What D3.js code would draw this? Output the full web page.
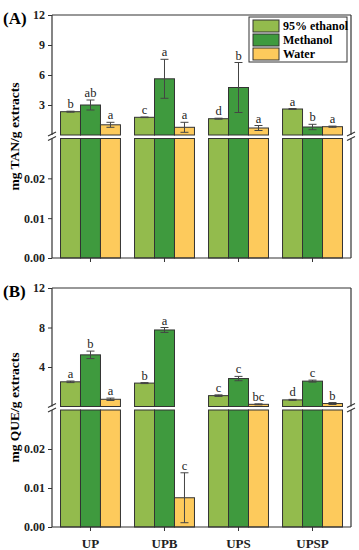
<!DOCTYPE html>
<html>
<head>
<meta charset="utf-8">
<script src="https://cdn.jsdelivr.net/npm/d3@7"></script>
<style>
  body { margin: 0; background: #fff; }
  svg { display: block; }
  text { font-family: "Liberation Serif", "Times New Roman", serif; }
</style>
</head>
<body>
<svg id="chart" width="359" height="550"></svg>
<script>
// data
const groups = ["UP", "UPB", "UPS", "UPSP"];
const series = ["95% ethanol", "Methanol", "Water"];
const colors = ["#93bb4d", "#3f9a3e", "#fdca5c"];

const tanMean = [[2.33, 3.0, 1.02], [1.77, 5.62, 0.77], [1.63, 4.75, 0.7], [2.6, 0.8, 0.83]];
const tanErr = [[0.05, 0.5, 0.25], [0.03, 1.95, 0.5], [0.05, 2.5, 0.25], [0.05, 0.27, 0.06]];
const tanLetters = [["b", "ab", "a"], ["c", "a", "a"], ["d", "b", "a"], ["a", "b", "a"]];

const queMean = [[2.5, 5.23, 0.73], [2.37, 7.75, 0.0075], [1.1, 2.83, 0.22], [0.67, 2.57, 0.3]];
const queErr = [[0.08, 0.38, 0.12], [0.05, 0.25, 0.0064], [0.08, 0.22, 0.05], [0.05, 0.1, 0.1]];
const queLetters = [["a", "b", "a"], ["b", "a", "c"], ["c", "c", "bc"], ["d", "c", "b"]];

const upperTicksA = [3, 6, 9, 12];
const upperTicksB = [4, 8, 12];
const lowerTicks = [0, 0.01, 0.02];
const breakAt = 0.03;

const svg = d3.select("#chart");
const left = 52, right = 351;

const x0 = d3.scaleBand().domain(groups).range([left, right]).paddingInner(0.19).paddingOuter(0.115);
const x1 = d3.scaleBand().domain(series).range([0, x0.bandwidth()]);

function panel(opt) {
  const g = svg.append("g");
  const yU = d3.scaleLinear().domain([0, 12]).range([opt.uBottom, opt.top]);
  const yL = d3.scaleLinear().domain([0, breakAt]).range([opt.bottom, opt.lTop]);

  // bars
  groups.forEach((grp, i) => {
    series.forEach((s, j) => {
      const v = opt.mean[i][j], e = opt.err[i][j];
      const bx = x0(grp) + x1(s), bw = x1.bandwidth();
      const fill = colors[j];
      if (v > breakAt) {
        g.append("rect").attr("x", bx).attr("y", yL(breakAt)).attr("width", bw)
          .attr("height", yL(0) - yL(breakAt)).attr("fill", fill).attr("stroke", "#333").attr("stroke-width", 1);
        g.append("rect").attr("x", bx).attr("y", yU(v)).attr("width", bw)
          .attr("height", yU(0) - yU(v)).attr("fill", fill).attr("stroke", "#333").attr("stroke-width", 1);
      } else {
        g.append("rect").attr("x", bx).attr("y", yL(v)).attr("width", bw)
          .attr("height", yL(0) - yL(v)).attr("fill", fill).attr("stroke", "#333").attr("stroke-width", 1);
      }
      const y = v > breakAt ? yU : yL;
      const cx = bx + bw / 2;
      const yt = y(v + e), yb = Math.min(y(Math.max(v - e, 0)), y(0) - 1);
      const eb = g.append("g").attr("stroke", "#444").attr("stroke-width", 1);
      eb.append("line").attr("x1", cx).attr("x2", cx).attr("y1", yt).attr("y2", yb);
      eb.append("line").attr("x1", cx - 4).attr("x2", cx + 4).attr("y1", yt).attr("y2", yt);
      eb.append("line").attr("x1", cx - 4).attr("x2", cx + 4).attr("y1", yb).attr("y2", yb);
      g.append("text").attr("x", cx).attr("y", yt - 3).attr("text-anchor", "middle")
        .attr("font-size", 12.5).attr("fill", "#222").text(opt.letters[i][j]);
    });
  });

  // frame lines
  const ln = (x1_, y1_, x2_, y2_) => g.append("line").attr("x1", x1_).attr("y1", y1_)
    .attr("x2", x2_).attr("y2", y2_).attr("stroke", "#333").attr("stroke-width", 1.2);
  ln(left, opt.top, right, opt.top);
  ln(left, opt.top, left, opt.uBottom);
  ln(left, opt.lTop, left, opt.bottom);
  ln(right, opt.top, right, opt.uBottom);
  ln(right, opt.lTop, right, opt.bottom);
  ln(left, opt.bottom, right, opt.bottom);

  // break marks
  [left, right].forEach(bxp => {
    ln(bxp - 4, opt.uBottom + 1, bxp + 4, opt.uBottom - 3);
    ln(bxp - 4, opt.lTop + 2, bxp + 4, opt.lTop - 2);
  });

  // axes
  const axU = d3.axisLeft(yU).tickValues(opt.uTicks).tickSize(4).tickFormat(d3.format("d"));
  const axL = d3.axisLeft(yL).tickValues(lowerTicks).tickSize(4).tickFormat(d3.format(".2f"));
  [axU, axL].forEach(ax => {
    const a = g.append("g").attr("transform", `translate(${left},0)`).call(ax);
    a.select(".domain").remove();
    a.selectAll("line").attr("stroke", "#333");
    a.selectAll("text").attr("font-size", 12).attr("font-weight", "bold").attr("fill", "#222")
      .attr("font-family", "Liberation Serif, serif");
  });
  const ax = g.append("g").attr("transform", `translate(0,${opt.bottom})`)
    .call(d3.axisBottom(x0).tickSize(4).tickFormat(opt.showX ? (d => d) : ""));
  ax.select(".domain").remove();
  ax.selectAll("line").attr("stroke", "#333");
  ax.selectAll("text").attr("font-size", 13).attr("font-weight", "bold").attr("fill", "#222")
    .attr("font-family", "Liberation Serif, serif").attr("dy", "1.1em");

  // labels
  g.append("text").attr("x", 3).attr("y", opt.top + 9).attr("font-size", 17).attr("font-weight", "bold")
    .text(opt.tag);
  const mid = (opt.top + opt.bottom) / 2;
  g.append("text").attr("transform", `translate(19,${mid}) rotate(-90)`).attr("text-anchor", "middle")
    .attr("font-size", 13.5).attr("font-weight", "bold").text(opt.ylabel);
  return g;
}

panel({ top: 15, uBottom: 135, lTop: 138.5, bottom: 258, mean: tanMean, err: tanErr, letters: tanLetters,
  uTicks: upperTicksA, tag: "(A)", ylabel: "mg TAN/g extracts", showX: false });
panel({ top: 288, uBottom: 406.5, lTop: 410, bottom: 527, mean: queMean, err: queErr, letters: queLetters,
  uTicks: upperTicksB, tag: "(B)", ylabel: "mg QUE/g extracts", showX: true });

// legend
const lg = svg.append("g").attr("transform", "translate(249,17)");
lg.append("rect").attr("width", 98).attr("height", 45).attr("fill", "#fff").attr("stroke", "#333").attr("stroke-width", 1);
series.forEach((s, j) => {
  lg.append("rect").attr("x", 4).attr("y", 3 + j * 14).attr("width", 26).attr("height", 12)
    .attr("fill", colors[j]).attr("stroke", "#333");
  lg.append("text").attr("x", 34).attr("y", 13 + j * 14).attr("font-size", 12).attr("font-weight", "bold").text(s);
});
</script>
</body>
</html>
